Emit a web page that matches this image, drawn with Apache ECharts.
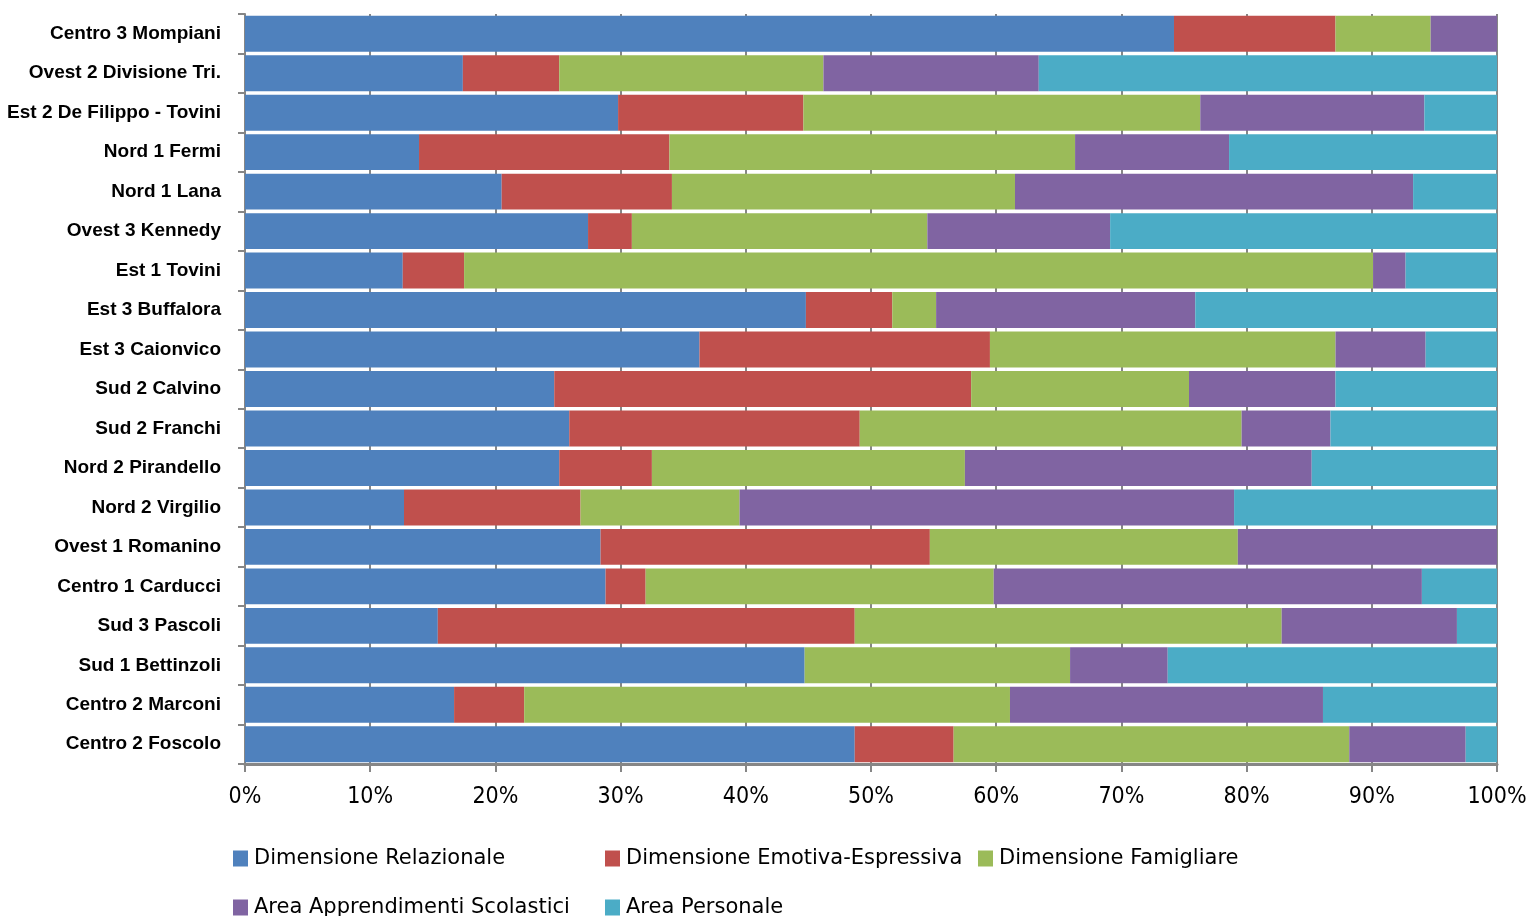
<!DOCTYPE html>
<html><head><meta charset="utf-8">
<script src="https://cdn.jsdelivr.net/npm/echarts@6/dist/echarts.min.js"></script>
<style>html,body{margin:0;padding:0;background:#fff}#c{width:1530px;height:916px}</style>
</head><body><div id="c"></div>
<script>
const categories = ["Centro 3 Mompiani","Ovest 2 Divisione Tri.","Est 2 De Filippo - Tovini","Nord 1 Fermi","Nord 1 Lana","Ovest 3 Kennedy","Est 1 Tovini","Est 3 Buffalora","Est 3 Caionvico","Sud 2 Calvino","Sud 2 Franchi","Nord 2 Pirandello","Nord 2 Virgilio","Ovest 1 Romanino","Centro 1 Carducci","Sud 3 Pascoli","Sud 1 Bettinzoli","Centro 2 Marconi","Centro 2 Foscolo"];
const relazionale = [74.2,17.4,29.8,13.9,20.5,27.4,12.6,44.8,36.3,24.7,25.9,25.1,12.7,28.4,28.8,15.4,44.7,16.7,48.7];
const emotiva     = [12.9,7.7,14.8,20.0,13.6,3.5,4.9,6.9,23.2,33.3,23.2,7.4,14.1,26.3,3.2,33.3,0,5.6,7.9];
const famigliare  = [7.6,21.1,31.7,32.4,27.4,23.6,72.6,3.5,27.6,17.4,30.5,25.0,12.7,24.6,27.8,34.1,21.2,38.8,31.6];
const apprendimenti = [5.3,17.2,17.9,12.3,31.8,14.6,2.6,20.7,7.2,11.7,7.1,27.7,39.5,20.7,34.2,14.0,7.8,25.0,9.3];
const personale   = [0,36.6,5.8,21.4,6.7,30.9,7.3,24.1,5.7,12.9,13.3,14.8,21.0,0,6.0,3.2,26.3,13.9,2.5];
const seriesNames = ["Dimensione Relazionale","Dimensione Emotiva-Espressiva","Dimensione Famigliare","Area Apprendimenti Scolastici","Area Personale"];
const xTicks = [0,10,20,30,40,50,60,70,80,90,100];

const colors = ["#4F81BD","#C0504D","#9BBB59","#8064A2","#4BACC6"];
const values = [relazionale, emotiva, famigliare, apprendimenti, personale];
const gray = "#868686";
const legendPos = [[228,843],[600,843],[973,843],[228,892],[600,892]];

const chart = echarts.init(document.getElementById('c'), null, {renderer:'canvas'});
chart.setOption({
  animation:false,
  backgroundColor:'#fff',
  color: colors,
  grid:{left:245, right:33, top:14, bottom:152, containLabel:false},
  legend: seriesNames.map((n,i)=>({
    data:[n], left:legendPos[i][0], top:legendPos[i][1], orient:'horizontal',
    itemWidth:15, itemHeight:16, icon:'rect', selectedMode:false,
    textStyle:{fontFamily:'DejaVu Sans', fontSize:21, color:'#000', padding:[0,0,0,1]}
  })),
  xAxis:{type:'value', min:xTicks[0], max:xTicks[xTicks.length-1], interval:xTicks[1]-xTicks[0],
    axisLine:{show:true, lineStyle:{color:gray, width:3}},
    axisTick:{show:true, length:8, lineStyle:{color:gray, width:2}},
    splitLine:{show:true, lineStyle:{color:gray, width:2}},
    axisLabel:{formatter:'{value}%', margin:22, color:'#000', fontFamily:'Liberation Sans Narrow, DejaVu Sans Condensed, sans-serif', fontSize:23}
  },
  yAxis:{type:'category', inverse:true, data:categories,
    axisLine:{show:true, lineStyle:{color:gray, width:2}},
    axisTick:{show:true, length:7, inside:false, lineStyle:{color:gray, width:2}},
    axisLabel:{margin:24, color:'#000', fontFamily:'Liberation Sans', fontWeight:'bold', fontSize:19}
  },
  series: seriesNames.map((n,i)=>({
    name:n, type:'bar', stack:'total', data:values[i], barCategoryGap:'9%',
    itemStyle:{color:colors[i]}
  }))
});
</script>
</body></html>
